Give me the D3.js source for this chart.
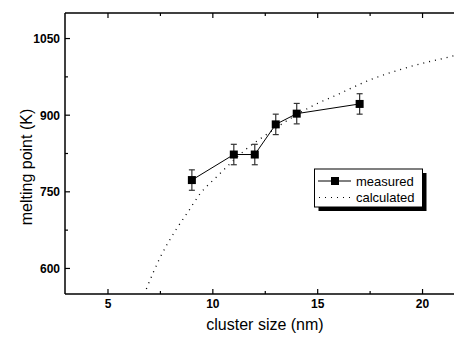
<!DOCTYPE html>
<html><head><meta charset="utf-8">
<script src="https://cdn.jsdelivr.net/npm/d3@7"></script>
<style>body{margin:0;background:#fff}svg{display:block;font-family:"Liberation Sans",Arial,sans-serif}</style>
</head><body><svg id="c" width="454" height="338"></svg>
<script>
const measuredX = [9, 11, 12, 13, 14, 17];
const measuredY = [773, 823, 823, 882, 903, 922];
const measuredErr = [20, 20, 20, 20, 20, 20];
const calcX = [6.83, 7.47, 8.26, 8.82, 9.37, 10.2, 10.77, 11.6, 12.48, 13.6, 14.94, 15.82, 17.49, 19.4, 21.46, 22];
const calcY = [560, 620, 677, 711, 745, 780, 803, 834, 860, 891, 922, 938, 969, 995, 1016, 1022];
const xTicks = [5, 10, 15, 20];
const xMinor = [7.5, 12.5, 17.5];
const yTicks = [600, 750, 900, 1050];
const yMinor = [675, 825, 975];
const legendLabels = ["measured", "calculated"];

const svg = d3.select("#c");
const L = 65, T = 13, B = 294;
const x = d3.scaleLinear().domain([2.95, 21.5]).range([L, 454]);
const y = d3.scaleLinear().domain([550, 1100]).range([B, T]);

svg.append("defs").append("clipPath").attr("id","clip").append("rect")
  .attr("x", L).attr("y", T).attr("width", 454 - L).attr("height", B - T);

const g = svg.append("g");
// axes lines
g.append("line").attr("x1",L).attr("x2",454).attr("y1",B).attr("y2",B).attr("stroke","#000").attr("stroke-width",1.5);
g.append("line").attr("x1",L).attr("x2",454).attr("y1",T).attr("y2",T).attr("stroke","#000").attr("stroke-width",1.5);
g.append("line").attr("x1",L).attr("x2",L).attr("y1",T).attr("y2",B).attr("stroke","#000").attr("stroke-width",1.5);

// x ticks
function xt(v, len){
  g.append("line").attr("x1",x(v)).attr("x2",x(v)).attr("y1",B).attr("y2",B-len).attr("stroke","#000").attr("stroke-width",1.2);
  g.append("line").attr("x1",x(v)).attr("x2",x(v)).attr("y1",T).attr("y2",T+len).attr("stroke","#000").attr("stroke-width",1.2);
}
xTicks.forEach(v => xt(v, 5));
xMinor.forEach(v => xt(v, 3));
function yt(v, len){
  g.append("line").attr("x1",L).attr("x2",L+len).attr("y1",y(v)).attr("y2",y(v)).attr("stroke","#000").attr("stroke-width",1.2);
}
yTicks.forEach(v => yt(v, 5));
yMinor.forEach(v => yt(v, 3));

g.selectAll(".xl").data(xTicks).join("text").attr("x", d => x(d)).attr("y", 308)
  .attr("text-anchor","middle").attr("font-size",12).attr("font-weight","bold").text(d => d);
g.selectAll(".yl").data(yTicks).join("text").attr("x", 60).attr("y", d => y(d) + 4.5)
  .attr("text-anchor","end").attr("font-size",12).attr("font-weight","bold").text(d => d);

svg.append("text").attr("x", 265).attr("y", 330).attr("text-anchor","middle").attr("font-size",16).text("cluster size (nm)");
svg.append("text").attr("transform","translate(32,167) rotate(-90)").attr("text-anchor","middle").attr("font-size",16).text("melting point (K)");

const plot = svg.append("g").attr("clip-path","url(#clip)");
const calc = calcX.map((d,i)=>[d, calcY[i]]);
plot.append("path").datum(calc)
  .attr("d", d3.line().x(d=>x(d[0])).y(d=>y(d[1])).curve(d3.curveMonotoneX))
  .attr("fill","none").attr("stroke","#000").attr("stroke-width",1.3).attr("stroke-dasharray","1 5");

const meas = measuredX.map((d,i)=>({x:d, y:measuredY[i], e:measuredErr[i]}));
plot.append("path").datum(meas)
  .attr("d", d3.line().x(d=>x(d.x)).y(d=>y(d.y)))
  .attr("fill","none").attr("stroke","#000").attr("stroke-width",1);
const eb = plot.selectAll(".eb").data(meas).join("g").attr("stroke","#333").attr("stroke-width",1.2);
eb.append("line").attr("x1",d=>x(d.x)).attr("x2",d=>x(d.x)).attr("y1",d=>y(d.y+d.e)).attr("y2",d=>y(d.y-d.e));
eb.append("line").attr("x1",d=>x(d.x)-3).attr("x2",d=>x(d.x)+3).attr("y1",d=>y(d.y+d.e)).attr("y2",d=>y(d.y+d.e));
eb.append("line").attr("x1",d=>x(d.x)-3).attr("x2",d=>x(d.x)+3).attr("y1",d=>y(d.y-d.e)).attr("y2",d=>y(d.y-d.e));
plot.selectAll(".sq").data(meas).join("rect")
  .attr("x",d=>x(d.x)-4).attr("y",d=>y(d.y)-4).attr("width",8).attr("height",8).attr("fill","#000");

// legend
const lg = svg.append("g");
lg.append("rect").attr("x",318.5).attr("y",173).attr("width",108).attr("height",38).attr("fill","#000");
lg.append("rect").attr("x",314.5).attr("y",169).attr("width",108).attr("height",38).attr("fill","#fff").attr("stroke","#000").attr("stroke-width",1);
lg.append("line").attr("x1",318).attr("x2",351).attr("y1",181).attr("y2",181).attr("stroke","#000").attr("stroke-width",1);
lg.append("rect").attr("x",331).attr("y",177).attr("width",8).attr("height",8).attr("fill","#000");
lg.append("line").attr("x1",319).attr("x2",351).attr("y1",197.5).attr("y2",197.5).attr("stroke","#000").attr("stroke-width",1.2).attr("stroke-dasharray","1 5");
lg.selectAll(".lt").data(legendLabels).join("text").attr("x",356).attr("y",(d,i)=>185.5+i*16.5)
  .attr("font-size",13).text(d=>d);
</script></body></html>
